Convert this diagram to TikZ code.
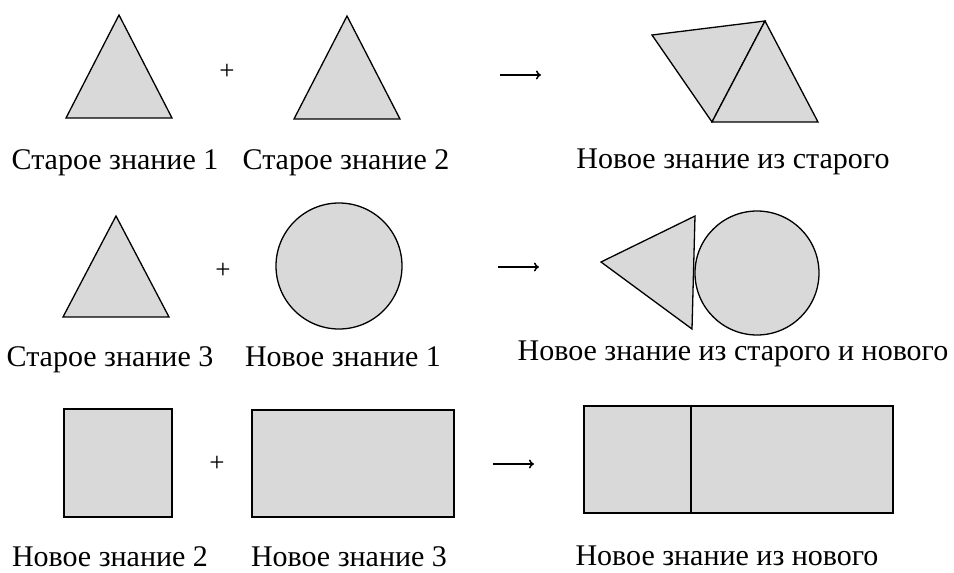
\documentclass[tikz,border=0pt]{standalone}
\usepackage{fontspec}
\setmainfont{Liberation Serif}
\usetikzlibrary{arrows.meta}
\definecolor{shapefill}{HTML}{D9D9D9}
\tikzset{
  fig/.style={draw=black, fill=shapefill, line width=1.3pt, line join=miter},
  rfig/.style={draw=black, fill=shapefill, line width=1.7pt},
  lbl/.style={anchor=base, inner sep=0pt, font=\fontsize{30}{34}\selectfont},
  plus/.style={inner sep=0pt, font=\fontsize{27}{30}\selectfont},
  arr/.style={line width=1.5pt, -{To[length=5pt,width=9pt]}}
}
\begin{document}
\begin{tikzpicture}[x=1pt,y=-1pt]
\useasboundingbox (0,0) rectangle (954,573);
% ---------- Row 1 ----------
\draw[fig] (119,15) -- (172,118) -- (66,118) -- cycle;
\node[plus] (p1) at (227,72) {+};
\draw[fig] (347,16) -- (400,119) -- (294,119) -- cycle;
\coordinate (a1s) at (500,75);
\coordinate (a1e) at (541,75);
\draw[arr] (a1s) -- (a1e);
\draw[fig] (652,35) -- (765,21) -- (712,122) -- cycle;
\draw[fig] (765,21) -- (818,122) -- (712,122) -- cycle;
\node[lbl] (l11) at (115,169) {Старое знание 1};
\node[lbl] (l12) at (346,169) {Старое знание 2};
\node[lbl] (l13) at (733,168) {Новое знание из старого};
% ---------- Row 2 ----------
\draw[fig] (116,216) -- (169,317) -- (63,317) -- cycle;
\node[plus] (p2) at (223,271) {+};
\draw[fig] (339,266) circle (63);
\coordinate (a2s) at (498,267);
\coordinate (a2e) at (539,267);
\draw[arr] (a2s) -- (a2e);
\draw[fig] (601,262) -- (695,216) -- (692,329) -- cycle;
\draw[fig] (757,273) circle (62);
\node[lbl] (l21) at (110,366) {Старое знание 3};
\node[lbl] (l22) at (343,366) {Новое знание 1};
\node[lbl] (l23) at (733,360) {Новое знание из старого и нового};
% ---------- Row 3 ----------
\draw[rfig] (64,409) rectangle (172,517);
\node[plus] (p3) at (217,464) {+};
\draw[rfig] (252,410) rectangle (454,517);
\coordinate (a3s) at (493,464);
\coordinate (a3e) at (534,464);
\draw[arr] (a3s) -- (a3e);
\draw[rfig] (584,406) rectangle (691,513);
\draw[rfig] (691,406) rectangle (893,513);
\node[lbl] (l31) at (110,566) {Новое знание 2};
\node[lbl] (l32) at (349,566) {Новое знание 3};
\node[lbl] (l33) at (727,565) {Новое знание из нового};
\end{tikzpicture}
\end{document}
